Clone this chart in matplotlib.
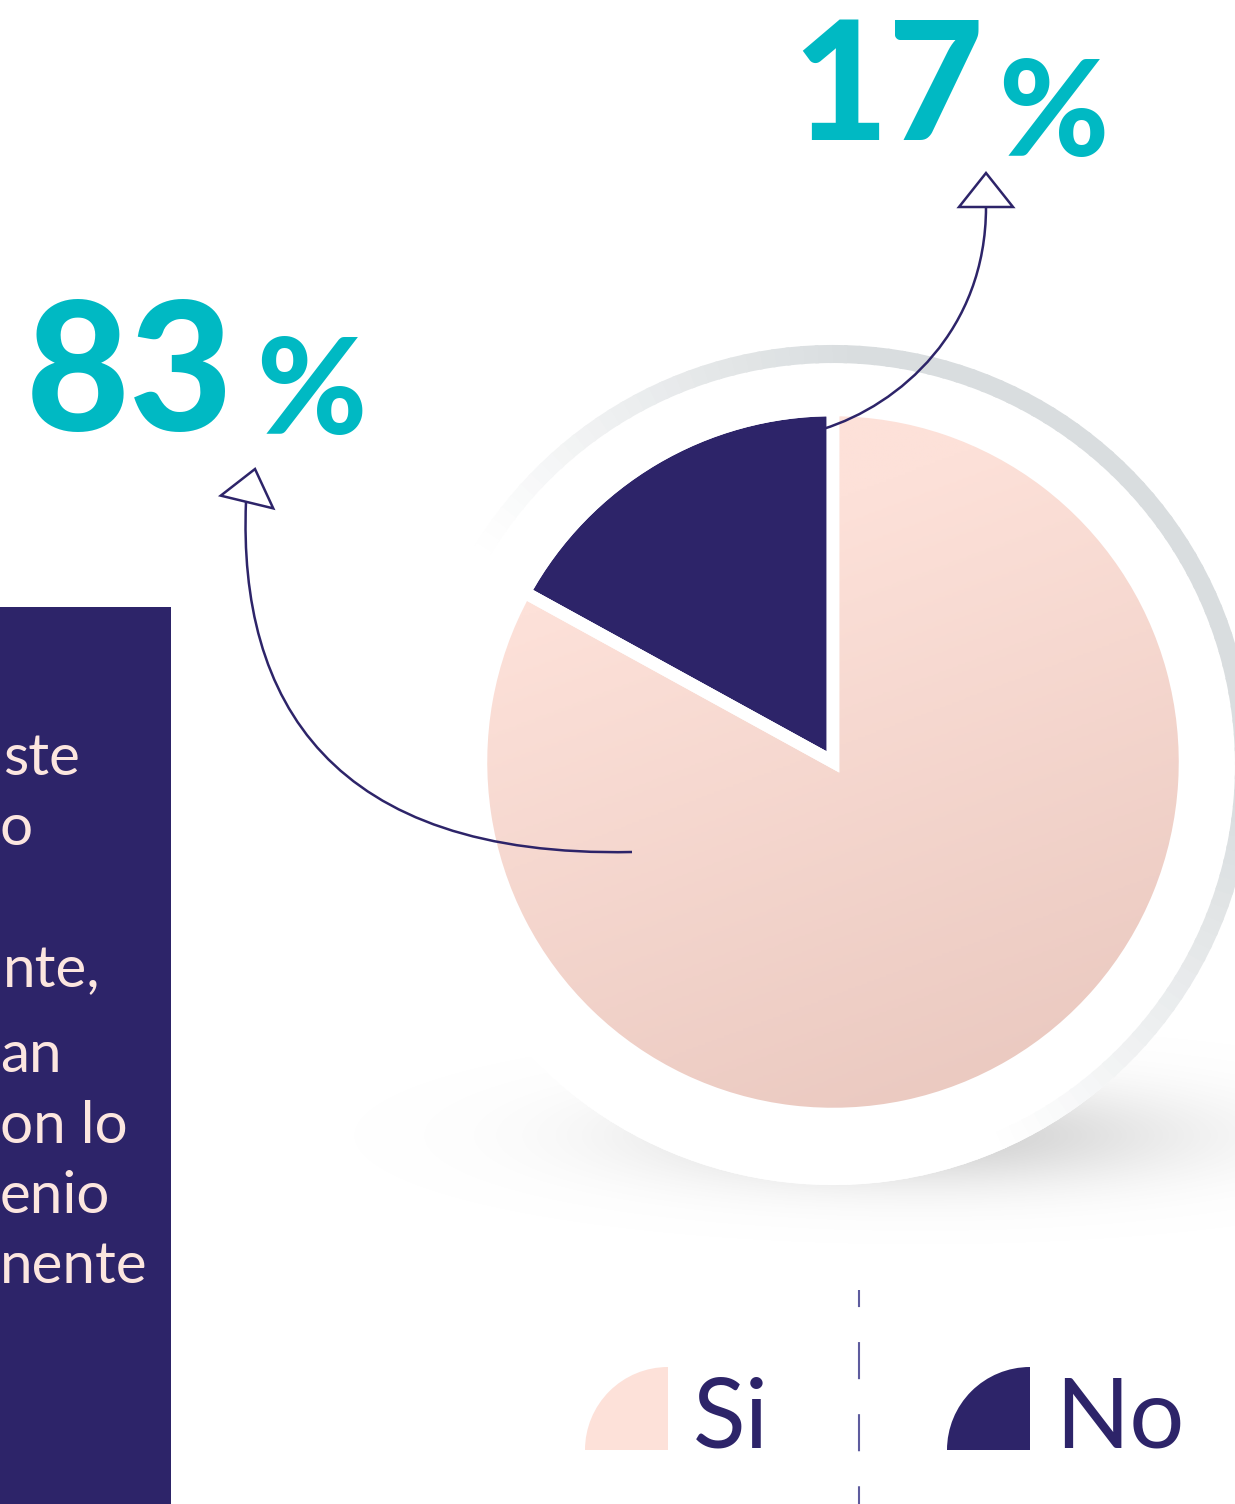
import matplotlib

matplotlib.use("Agg")
import matplotlib.pyplot as plt
import numpy as np
from matplotlib.colors import LinearSegmentedColormap, to_rgb
from matplotlib.patches import Arc, Circle, PathPatch, Polygon, Rectangle, Wedge
from matplotlib.path import Path

W, H = 1235, 1504

# data
labels = ["Si", "No"]
shares = [83, 17]
share_text = ["83", "17"]

# what is left of the paragraph cut by the left edge
side_lines = ["ste", "o", "nte,", "an", "on lo", "enio", "nente"]

NAVY = "#2d2469"
PINK = "#fde1d9"
PINK_DARK = "#e8c6bd"
TEAL = "#00b9c3"
CREAM = "#fce6df"
RING = "#d9dddf"

HEAVY = ["Lato", "DejaVu Sans"]
BOOK = ["Lato", "DejaVu Sans"]


def Y(y):
    """Image row (top down) to axes y."""
    return H - y


def hollow_head(ax, base, tip, half=27):
    base = np.array(base, float)
    tip = np.array(tip, float)
    d = (tip - base) / np.linalg.norm(tip - base)
    p = np.array([-d[1], d[0]])
    pts = [tip, base + p * half, base - p * half]
    ax.add_patch(Polygon([(x, Y(y)) for x, y in pts], closed=True, fc="white",
                         ec=NAVY, lw=1.8, joinstyle="miter", zorder=8))


def curve(ax, pts):
    verts = [(x, Y(y)) for x, y in pts]
    codes = [Path.MOVETO, Path.CURVE4, Path.CURVE4, Path.CURVE4]
    ax.add_patch(PathPatch(Path(verts, codes), fc="none", ec=NAVY, lw=1.8, zorder=7))


fig = plt.figure(figsize=(W / 100, H / 100), dpi=100)
ax = fig.add_axes([0, 0, 1, 1])
ax.axis("off")

cx, cy = 833, 762       # pie centre (image coords)
r = 352
ring_c = (833, 765)
ring_r = 411

# soft shadow under the disc
yy, xx = np.mgrid[0:H, 0:W]
sh = np.exp(-(((xx - 920) / 260.0) ** 2 + ((yy - 1135) / 50.0) ** 2))
shadow = np.zeros((H, W, 4))
shadow[..., :3] = 0.6
shadow[..., 3] = 0.45 * sh
ax.imshow(shadow, extent=(0, W, 0, H), origin="upper", zorder=0, interpolation="bilinear")

ax.add_patch(Circle((ring_c[0], Y(ring_c[1])), 420, fc="white", ec="none", zorder=1))

# grey rim, fading towards the lower left
gray = np.array(to_rgb(RING))
for a in range(0, 360, 2):
    f = np.clip(0.3 + np.cos(np.radians(a - 40)), 0, 1)
    col = (1 - f) * np.ones(3) + f * gray
    ax.add_patch(Arc((ring_c[0], Y(ring_c[1])), 2 * ring_r, 2 * ring_r,
                     theta1=a, theta2=a + 2.5, color=col, lw=13, zorder=2))

wedges, _ = ax.pie(shares, colors=[PINK, NAVY], startangle=90, counterclock=False,
                   center=(cx, Y(cy)), radius=r, frame=True,
                   wedgeprops=dict(ec="white", lw=9, zorder=3))

# pink slice darkens towards the bottom
u, v = np.meshgrid(np.linspace(0, 1, 300), np.linspace(0, 1, 300))
t = np.clip(0.8 * v + 0.3 * u - 0.25, 0, 1)
cmap = LinearSegmentedColormap.from_list("pinkgrad", [PINK, PINK_DARK])
im = ax.imshow(t, cmap=cmap, extent=(cx - r, cx + r, Y(cy) - r, Y(cy) + r),
               origin="upper", zorder=3.5, interpolation="bilinear")
im.set_clip_path(wedges[0])
for w in wedges:
    ax.add_patch(Wedge(w.center, w.r, w.theta1, w.theta2, fc="none", ec="white",
                       lw=9, zorder=4))

# big percentages
ax.text(26, Y(431), share_text[0], fontsize=129, fontweight="black", family=HEAVY,
        color=TEAL, ha="left", va="baseline", zorder=6)
ax.text(256, Y(434), "%", fontsize=96, fontweight="black", family=HEAVY,
        color=TEAL, ha="left", va="baseline", zorder=6)
ax.text(792, Y(140), share_text[1], fontsize=119, fontweight="black", family=HEAVY,
        color=TEAL, ha="left", va="baseline", zorder=6)
ax.text(998, Y(156), "%", fontsize=96, fontweight="black", family=HEAVY,
        color=TEAL, ha="left", va="baseline", zorder=6)

# curved arrows
curve(ax, [(632, 852), (330, 858), (238, 700), (246, 502)])
hollow_head(ax, (247, 502), (255, 469))
curve(ax, [(823, 429), (900, 405), (986, 330), (986, 207)])
hollow_head(ax, (986, 207), (986, 173))

# side panel
ax.add_patch(Rectangle((0, 0), 171, Y(607), fc=NAVY, ec="none", zorder=5))
side_x = [3, 0, 3, 0, 0, 0, 0]
side_y = [775, 845, 987, 1072, 1143, 1213, 1283]
for s, x, y in zip(side_lines, side_x, side_y):
    ax.text(x, Y(y), s, fontsize=42, fontweight="normal", family=BOOK, color=CREAM,
            ha="left", va="baseline", zorder=6)

# legend
for lab, wx, col, tx in zip(labels, [668, 1030], [PINK, NAVY], [693, 1055]):
    ax.add_patch(Wedge((wx, Y(1450)), 83, 90, 180, fc=col, ec="none", zorder=6))
    ax.text(tx, Y(1447), lab, fontsize=70, fontweight="normal", family=BOOK,
            color=NAVY, ha="left", va="baseline", zorder=6)
ax.plot([859, 859], [Y(1290), 0], color="#5e5c9e", lw=1.5,
        linestyle=(9.6, (17.8, 16.8)), zorder=6)

ax.set_xlim(0, W)
ax.set_ylim(0, H)
ax.set_aspect("auto")
ax.axis("off")

fig.savefig("out.png", dpi=100)
